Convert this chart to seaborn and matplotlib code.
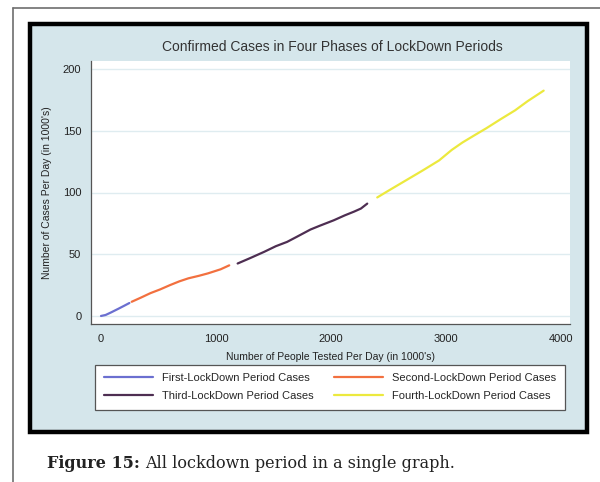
import numpy as np
import pandas as pd
import seaborn as sns
import matplotlib
matplotlib.use("Agg")
import matplotlib.pyplot as plt
from matplotlib.patches import Rectangle
from matplotlib.lines import Line2D

# ---- data ----
first_x = [0, 40, 90, 150, 200, 247]
first_y = [0, 0.8, 3, 5.8, 8.2, 10.5]
second_x = [267, 350, 430, 514, 600, 680, 760, 850, 930, 980, 1040, 1080, 1115]
second_y = [11.5, 15, 18.5, 21.5, 25, 28, 30.5, 32.5, 34.5, 36, 37.8, 39.5, 41]
third_x = [1188, 1300, 1420, 1520, 1618, 1700, 1821, 1900, 2024, 2120, 2200, 2260, 2315]
third_y = [42.5, 47, 52, 56.5, 60, 64, 70, 73, 77.5, 81.5, 84.5, 87, 91]
fourth_x = [2402, 2500, 2600, 2700, 2800, 2940, 3050, 3143, 3250, 3350, 3477, 3600, 3710, 3849]
fourth_y = [96, 101.5, 107, 112.5, 118, 126, 134.5, 140.5, 146.5, 152, 159.5, 166.5, 174, 182.5]

phases = ["First-LockDown Period Cases", "Second-LockDown Period Cases",
          "Third-LockDown Period Cases", "Fourth-LockDown Period Cases"]
colors = ["#6b6fd0", "#f2703f", "#4e2e52", "#ece93e"]
xticks = [0, 1000, 2000, 3000, 4000]
yticks = [0, 50, 100, 150, 200]

title = "Confirmed Cases in Four Phases of LockDown Periods"
xlabel = "Number of People Tested Per Day (in 1000's)"
ylabel = "Number of Cases Per Day (in 1000's)"

df = pd.concat([
    pd.DataFrame({"tested": xs, "cases": ys, "phase": p})
    for xs, ys, p in zip([first_x, second_x, third_x, fourth_x],
                         [first_y, second_y, third_y, fourth_y], phases)
], ignore_index=True)

sns.set_style("white")
plt.rcParams["font.family"] = ["Liberation Sans", "DejaVu Sans"]

W, H = 600, 482
fig = plt.figure(figsize=(W / 100, H / 100), dpi=100)
fig.patch.set_facecolor("white")

def fx(px):
    return px / W

def fy(py):
    return 1 - py / H

# page frame lines
fig.add_artist(Line2D([fx(12.5), fx(12.5)], [fy(7.5), fy(482)], color="#6e6e6e", lw=1.2))
fig.add_artist(Line2D([fx(12.5), fx(600)], [fy(7.5), fy(7.5)], color="#6e6e6e", lw=1.2))

# chart panel with black border
bg = "#d5e6eb"
fig.add_artist(Rectangle((fx(29.5), fy(432)), fx(586.5) - fx(29.5), fy(24) - fy(432),
                         transform=fig.transFigure, facecolor=bg, edgecolor="black",
                         lw=3.2, zorder=0))

# axes
left, right, top, bottom = 91, 570, 61, 324
ax = fig.add_axes([fx(left), fy(bottom), fx(right) - fx(left), fy(top) - fy(bottom)])
ax.set_facecolor("white")

sns.lineplot(data=df, x="tested", y="cases", hue="phase", hue_order=phases,
             palette=colors, sort=False, estimator=None, lw=1.6, ax=ax, legend=False)

ax.set_xlim(-87, 4078)
ax.set_ylim(-6.5, 206.5)
ax.set_xticks(xticks)
ax.set_yticks(yticks)
ax.set_xticklabels([str(v) for v in xticks], fontsize=8, color="#222222")
ax.set_yticklabels([str(v) for v in yticks], fontsize=8, color="#222222")
ax.tick_params(axis="both", direction="out", length=4, width=0.8, color="#555555", pad=3)
ax.yaxis.grid(True, color="#dfecf0", lw=1.0)
ax.set_axisbelow(True)
for s in ["top", "right"]:
    ax.spines[s].set_visible(False)
for s in ["left", "bottom"]:
    ax.spines[s].set_color("#555555")
    ax.spines[s].set_linewidth(0.9)
ax.set_xlabel(xlabel, fontsize=7.5, color="#222222", labelpad=6)
ax.set_ylabel(ylabel, fontsize=7.5, color="#222222", labelpad=8)
fig.text(fx(332), fy(47), title, ha="center", va="center", fontsize=10, color="#333333")

# legend
handles = [Line2D([], [], color=c, lw=1.6) for c in colors]
order = [0, 2, 1, 3]
leg = fig.legend([handles[i] for i in order], [phases[i] for i in order], ncol=2,
                 loc="center", bbox_to_anchor=(fx(330), fy(387)), fontsize=8,
                 frameon=True, fancybox=False, shadow=False, handlelength=4.4,
                 handletextpad=0.8, columnspacing=1.9, borderpad=0.75,
                 labelspacing=0.75, borderaxespad=0)
fr = leg.get_frame()
fr.set_edgecolor("#555555")
fr.set_linewidth(0.9)
fr.set_facecolor("white")
fr.set_alpha(1)

# caption
fig.canvas.draw()
r = fig.canvas.get_renderer()
cap_font = ["DejaVu Serif"]
t1 = fig.text(fx(47), fy(463), "Figure 15:", fontsize=11.5, fontweight="bold",
              family=cap_font, va="center", color="#222222")
bb = t1.get_window_extent(r)
fig.text(bb.x1 / W + fx(5), fy(463), "All lockdown period in a single graph.", fontsize=11.5,
         family=cap_font, va="center", color="#222222")

fig.savefig("out.png", dpi=100, facecolor="white")
